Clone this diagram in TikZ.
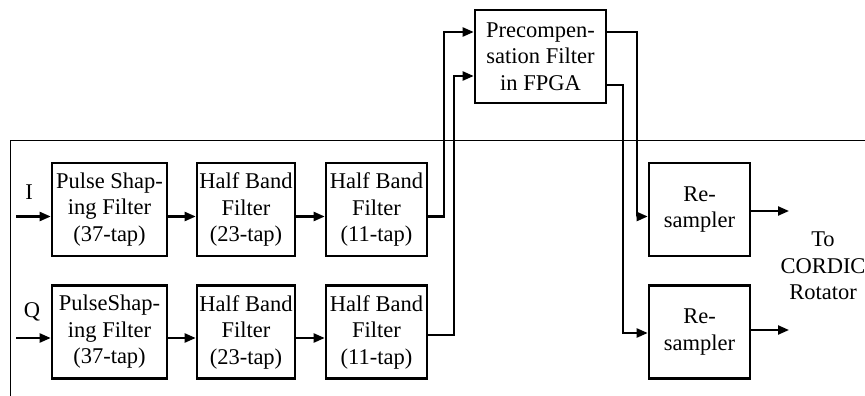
\documentclass[tikz,border=0pt]{standalone}
\usepackage{fontspec}
\setmainfont{Liberation Serif}
\usetikzlibrary{arrows.meta}
\begin{document}
\begin{tikzpicture}[x=1pt,y=-1pt,
  blk/.style={draw,line width=2.6pt,rectangle,minimum height=93pt,inner sep=0pt,align=center,font=\fontsize{22.5}{26.5}\selectfont},
  arr/.style={line width=2.2pt,-{Triangle[length=11pt,width=9pt]}},
  lbl/.style={inner sep=0pt,align=center,font=\fontsize{22.5}{26.5}\selectfont}]
\useasboundingbox (0,0) rectangle (865,396);
% frame
\draw[line width=1pt] (10,400) -- (10,140) -- (870,140);
% I row
\node[blk,minimum width=115pt] (ps1) at (109.5,209.5) {Pulse Shap-\\ing Filter\\(37-tap)};
\node[blk,minimum width=98pt] (hb1) at (246,209.5) {Half Band\\Filter\\(23-tap)};
\node[blk,minimum width=101pt] (hb2) at (376.5,209.5) {Half Band\\Filter\\(11-tap)};
% Q row
\node[blk,minimum width=115pt] (ps2) at (109.5,332) {PulseShap-\\ing Filter\\(37-tap)};
\node[blk,minimum width=98pt] (hb3) at (246,332) {Half Band\\Filter\\(23-tap)};
\node[blk,minimum width=101pt] (hb4) at (376.5,332) {Half Band\\Filter\\(11-tap)};
% precompensation
\node[blk,minimum width=131pt] (pre) at (540.5,56.5) {Precompen-\\sation Filter\\in FPGA};
% resamplers
\node[blk,minimum width=101pt] (rs1) at (699.5,209.5) {Re-\\sampler};
\node[blk,minimum width=101pt] (rs2) at (699.5,332) {Re-\\sampler};
% labels
\node[lbl] (ilab) at (29,192) {I};
\node[lbl] (qlab) at (32,312) {Q};
\node[lbl] (out) at (823,266) {To\\CORDIC\\Rotator};
% inputs
\coordinate (iin) at (16,216.5);
\coordinate (qin) at (16,338);
\draw[arr] (iin) -- (iin -| ps1.west);
\draw[arr] (qin) -- (qin -| ps2.west);
% chain arrows
\draw[arr] ([yshift=-7pt]ps1.east) -- ([yshift=-7pt]hb1.west);
\draw[arr] ([yshift=-7pt]hb1.east) -- ([yshift=-7pt]hb2.west);
\draw[arr] ([yshift=-6pt]ps2.east) -- ([yshift=-6pt]hb3.west);
\draw[arr] ([yshift=-6pt]hb3.east) -- ([yshift=-6pt]hb4.west);
% to precompensation
\draw[arr] ([yshift=-7pt]hb2.east) -- ++(16,0) |- ([yshift=24.5pt]pre.west);
\draw[arr] ([yshift=-3pt]hb4.east) -- ++(26,0) |- ([yshift=-19.5pt]pre.west);
% from precompensation
\draw[arr] ([yshift=24.5pt]pre.east) -- ++(30,0) |- ([yshift=-7pt]rs1.west);
\draw[arr] ([yshift=-28.5pt]pre.east) -- ++(16,0) |- ([yshift=-1pt]rs2.west);
% outputs
\coordinate (o1) at (789,211);
\coordinate (o2) at (789,330);
\draw[arr] (rs1.east |- o1) -- (o1);
\draw[arr] (rs2.east |- o2) -- (o2);
\end{tikzpicture}
\end{document}
